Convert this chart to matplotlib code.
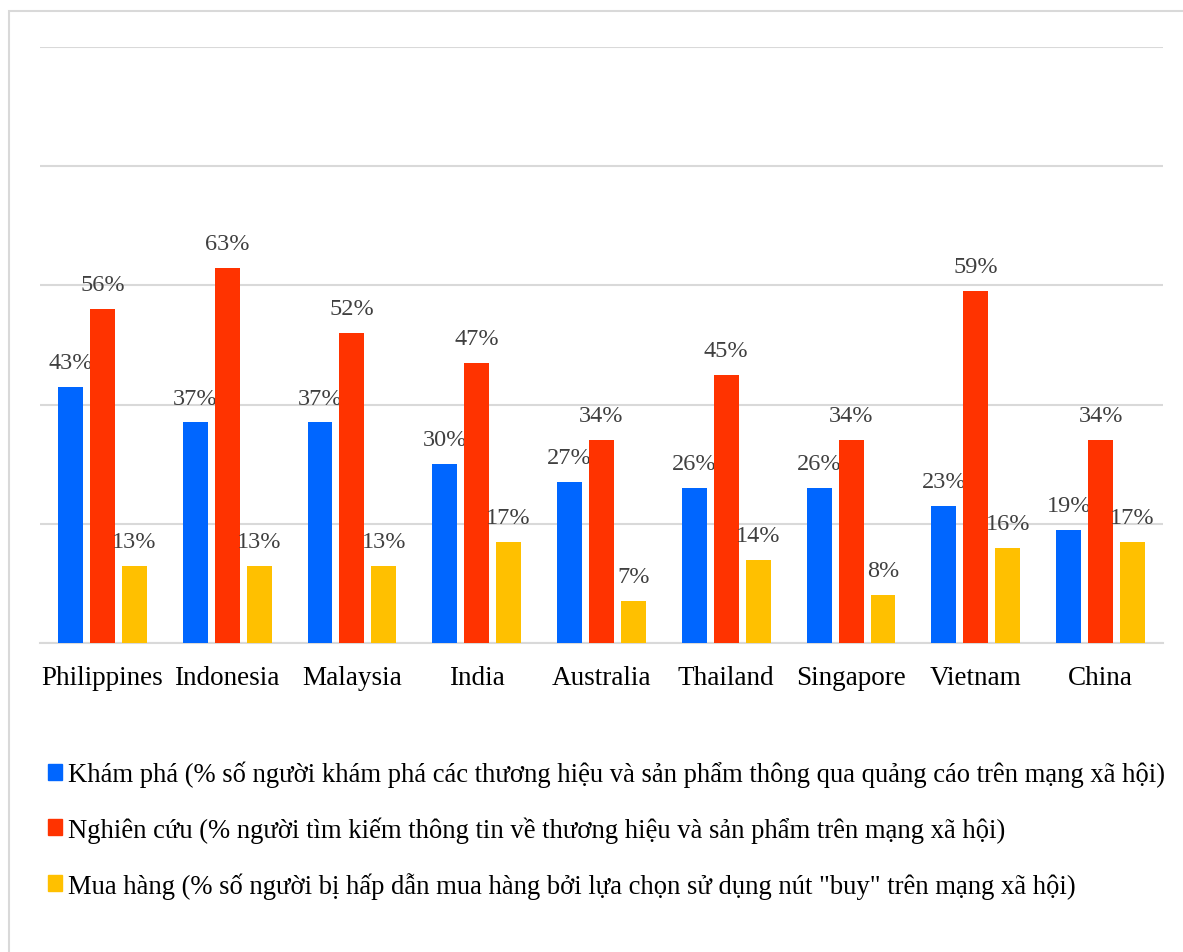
import matplotlib
matplotlib.use("Agg")
import matplotlib.pyplot as plt
import numpy as np
from matplotlib.patches import Rectangle

# ------------------------------------------------------------------ #
# Data
# ------------------------------------------------------------------ #
countries = ["Philippines", "Indonesia", "Malaysia", "India", "Australia",
             "Thailand", "Singapore", "Vietnam", "China"]
discover = [43, 37, 37, 30, 27, 26, 26, 23, 19]
research = [56, 63, 52, 47, 34, 45, 34, 59, 34]
purchase = [13, 13, 13, 17, 7, 14, 8, 16, 17]

series_labels = [
    "Khám phá (% số người khám phá các thương hiệu và sản phẩm thông qua quảng cáo trên mạng xã hội)",
    "Nghiên cứu (% người tìm kiếm thông tin về thương hiệu và sản phẩm trên mạng xã hội)",
    "Mua hàng (% số người bị hấp dẫn mua hàng bởi lựa chọn sử dụng nút \"buy\" trên mạng xã hội)",
]
colors = ["#0066FF", "#FF3300", "#FFC000"]

plt.rcParams["font.family"] = ["Liberation Serif", "DejaVu Serif"]

fig = plt.figure(figsize=(11.83, 9.53), dpi=100)
# light outer border of the chart area
fig.patches.append(Rectangle((9 / 1183, -0.01), 1.2, 1 - 12 / 953 + 0.01,
                             transform=fig.transFigure, fill=False,
                             edgecolor="#d9d9d9", linewidth=1.5))

ax = fig.add_axes([40 / 1183, 1 - 644 / 953, 1123 / 1183, 596 / 953])

x = np.arange(len(countries))
width = 0.2
step = 0.256
for i, (vals, c) in enumerate(zip([discover, research, purchase], colors)):
    bars = ax.bar(x + (i - 1) * step, vals, width, color=c, zorder=3)
    ax.bar_label(bars, labels=[f"{v}%" for v in vals], padding=10,
                 fontsize=17.5, color="#404040")

ax.set_xlim(-0.5, len(countries) - 0.5)
ax.set_ylim(0, 100)
ax.set_yticks(np.arange(0, 101, 20))
ax.yaxis.grid(True, color="#d9d9d9", linewidth=1.5, zorder=0)
ax.tick_params(axis="y", left=False, labelleft=False)
ax.tick_params(axis="x", length=0, pad=16, labelsize=19.5)
ax.set_xticks(x)
ax.set_xticklabels(countries)
for s in ["top", "right", "left"]:
    ax.spines[s].set_visible(False)
ax.spines["bottom"].set_color("#d9d9d9")
ax.spines["bottom"].set_linewidth(1.5)

handles = [Rectangle((0, 0), 1, 1, color=c) for c in colors]
fig.legend(handles, series_labels, loc="upper left",
           bbox_to_anchor=(48 / 1183, 1 - 762 / 953), frameon=False,
           fontsize=19.2, handlelength=0.53, handleheight=0.53,
           handletextpad=0.23, labelspacing=1.08, borderpad=0,
           borderaxespad=0)

fig.savefig("out.png", dpi=100)
